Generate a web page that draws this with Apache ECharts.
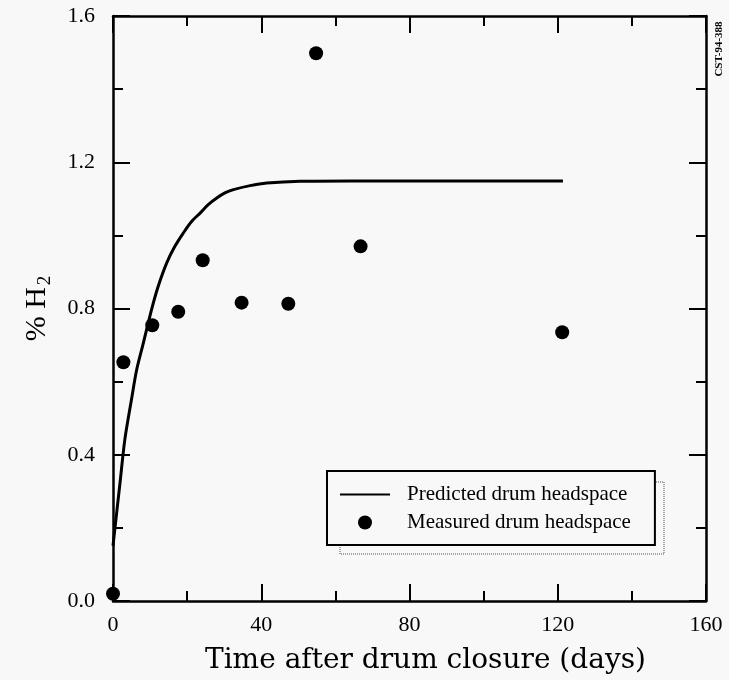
<!DOCTYPE html>
<html>
<head>
<meta charset="utf-8">
<script src="https://cdn.jsdelivr.net/npm/echarts@6/dist/echarts.min.js"></script>
<style>
html,body{margin:0;padding:0;background:#f8f8f8;}
#chart{width:729px;height:680px;}
</style>
</head>
<body>
<div id="chart"></div>
<script>
// Predicted drum headspace curve (days, % H2)
var predictedX = [0, 1.9, 3.2, 5.0, 6.4, 8.2, 10.4, 12.2, 14.5, 16.7, 19.0, 21.2, 23.5, 25.7, 28.0, 30.2, 32.5, 37.0, 41.5, 50.5, 64, 80, 100, 121.4];
var predictedY = [0.151, 0.324, 0.442, 0.552, 0.633, 0.706, 0.797, 0.861, 0.925, 0.970, 1.007, 1.038, 1.061, 1.084, 1.102, 1.116, 1.125, 1.136, 1.143, 1.148, 1.149, 1.149, 1.149, 1.149];
// Measured drum headspace points
var measuredX = [0, 2.8, 10.6, 17.6, 24.2, 34.7, 47.3, 54.8, 66.8, 121.2];
var measuredY = [0.02, 0.653, 0.754, 0.791, 0.932, 0.816, 0.813, 1.498, 0.970, 0.735];
var xTicks = [0, 40, 80, 120, 160];
var yTicks = [0.0, 0.4, 0.8, 1.2, 1.6];

var FONT = '"Liberation Serif", "DejaVu Serif", serif';
var WIDE = '"DejaVu Serif", "Liberation Serif", serif';
function pairs(xs, ys){ return xs.map(function(x,i){ return [x, ys[i]]; }); }

var chart = echarts.init(document.getElementById('chart'));
var axisCommon = {
  axisLine: {show: true, onZero: false, lineStyle: {color: '#000', width: 2.5}},
  axisTick: {show: true, inside: true, length: 17, lineStyle: {color: '#000', width: 2}},
  minorTick: {show: true, splitNumber: 2, length: 10, lineStyle: {color: '#000', width: 2}},
  splitLine: {show: false},
  minorSplitLine: {show: false}
};
function mk(base, extra){ return Object.assign({}, base, extra); }

chart.setOption({
  backgroundColor: '#f8f8f8',
  animation: false,
  grid: {left: 113, right: 23, top: 16, bottom: 78, containLabel: false},
  xAxis: [
    mk(axisCommon, {
      type: 'value', position: 'bottom', min: xTicks[0], max: xTicks[xTicks.length-1], interval: 40,
      name: 'Time after drum closure (days)', nameLocation: 'middle', nameGap: 46,
      nameTextStyle: {fontFamily: WIDE, fontSize: 28, color: '#000', padding: [0, 0, 0, 32]},
      axisLabel: {show: true, margin: 13, fontFamily: FONT, fontSize: 22, color: '#000'}
    }),
    mk(axisCommon, {
      type: 'value', position: 'top', min: xTicks[0], max: xTicks[xTicks.length-1], interval: 40,
      axisLabel: {show: false}
    })
  ],
  yAxis: [
    mk(axisCommon, {
      type: 'value', position: 'left', min: yTicks[0], max: yTicks[yTicks.length-1], interval: 0.4,
      name: '{a|% H}{b|2}', nameLocation: 'middle', nameGap: 58, nameRotate: 90,
      nameTextStyle: {color: '#000', rich: {
        a: {fontFamily: FONT, fontSize: 30, color: '#000'},
        b: {fontFamily: FONT, fontSize: 19, color: '#000', padding: [16, 0, 0, 2]}
      }},
      axisLabel: {show: true, margin: 18, fontFamily: FONT, fontSize: 22, color: '#000',
        formatter: function(v){ return v.toFixed(1); }}
    }),
    mk(axisCommon, {
      type: 'value', position: 'right', min: yTicks[0], max: yTicks[yTicks.length-1], interval: 0.4,
      axisLabel: {show: false}
    })
  ],
  legend: {
    left: 327, top: 471, orient: 'vertical',
    backgroundColor: '#f8f8f8', borderColor: '#000', borderWidth: 2,
    padding: [13, 24, 12, 13], itemGap: 7, itemWidth: 50, itemHeight: 14,
    textStyle: {fontFamily: FONT, fontSize: 21, color: '#000', padding: [0, 0, 0, 12]},
    data: [
      {name: 'Predicted drum headspace', icon: 'path://M0,6L50,6L50,8L0,8Z'},
      {name: 'Measured drum headspace', icon: 'circle'}
    ]
  },
  graphic: [
    {type: 'rect', z: -1, shape: {x: 340, y: 482, width: 324, height: 72},
      style: {fill: 'none', stroke: '#888', lineWidth: 1.5, lineDash: [1, 1]}},
    {type: 'text', x: 719, y: 49, rotation: Math.PI/2,
      style: {text: 'CST-94-388', font: 'bold 11px ' + FONT, fill: '#000', align: 'center', verticalAlign: 'middle'}}
  ],
  series: [
    {name: 'Predicted drum headspace', type: 'line', xAxisIndex: 0, yAxisIndex: 0,
      data: pairs(predictedX, predictedY), smooth: 0.3, showSymbol: false, symbol: 'none',
      lineStyle: {color: '#000', width: 3}, itemStyle: {color: '#000'}},
    {name: 'Measured drum headspace', type: 'scatter', xAxisIndex: 0, yAxisIndex: 0,
      data: pairs(measuredX, measuredY), symbolSize: 14, itemStyle: {color: '#000', opacity: 1}}
  ]
});
</script>
</body>
</html>
